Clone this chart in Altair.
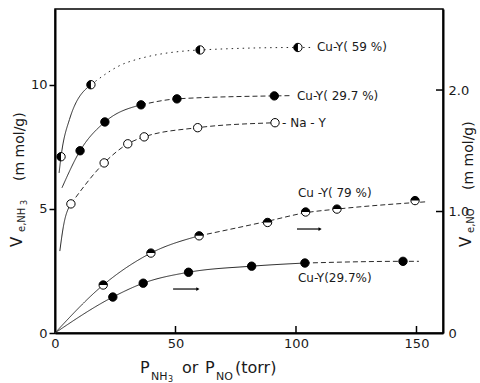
import altair as alt
import pandas as pd

# ---------------- data ----------------
# NH3 uptake (left axis, mmol/g)
p59_x = [2.5, 14.9, 60.2, 100.8]
p59_y = [7.1, 10.0, 11.4, 11.5]
p297n_x = [10.4, 20.7, 35.7, 50.6, 91.0]
p297n_y = [7.34, 8.5, 9.19, 9.43, 9.55]
pna_x = [6.6, 20.4, 30.2, 37.0, 59.2, 91.3]
pna_y = [5.2, 6.85, 7.62, 7.9, 8.27, 8.47]
# NO uptake (right axis, mmol/g)
p79_x = [20.0, 39.8, 59.8, 88.2, 104.0, 117.0, 149.4]
p79_y = [0.395, 0.658, 0.80, 0.91, 0.996, 1.02, 1.09]
p297o_x = [24.0, 36.6, 55.4, 81.6, 103.7, 144.4]
p297o_y = [0.296, 0.41, 0.50, 0.55, 0.576, 0.59]

# drawn guide curves
c59_solid_x = [1.7, 2.5, 6.0, 14.9]
c59_solid_y = [6.45, 7.1, 8.6, 10.0]
c59_dot_x = [14.9, 30.0, 60.2, 100.8, 107.0]
c59_dot_y = [10.0, 10.9, 11.4, 11.5, 11.5]
c297n_solid_x = [2.9, 10.4, 20.7, 35.7]
c297n_solid_y = [5.85, 7.34, 8.5, 9.19]
c297n_dash_x = [35.7, 50.6, 91.0, 98.0]
c297n_dash_y = [9.19, 9.43, 9.55, 9.56]
cna_solid_x = [2.0, 3.5, 6.6]
cna_solid_y = [3.3, 4.3, 5.2]
cna_dash_x = [6.6, 20.4, 30.2, 37.0, 59.2, 91.3, 94.0]
cna_dash_y = [5.2, 6.85, 7.62, 7.9, 8.27, 8.47, 8.48]
c79_solid_x = [0.0, 20.0, 39.8, 59.8]
c79_solid_y = [0.0, 0.395, 0.658, 0.80]
c79_dash_x = [59.8, 88.2, 104.0, 117.0, 154.0]
c79_dash_y = [0.80, 0.92, 0.99, 1.02, 1.08]
c297o_solid_x = [0.0, 24.0, 36.6, 55.4, 81.6, 103.7]
c297o_solid_y = [0.0, 0.296, 0.41, 0.50, 0.55, 0.576]
c297o_dash_x = [103.7, 144.4, 151.0]
c297o_dash_y = [0.576, 0.59, 0.59]

# labels
nh3_lab_text = ["Cu-Y( 59 %)", "Cu-Y( 29.7 %)", "- Na - Y"]
nh3_lab_x = [108.7, 100.4, 94.2]
nh3_lab_y = [11.5, 9.55, 8.47]
no_lab_text = ["Cu -Y( 79 %)", "Cu-Y(29.7%)"]
no_lab_x = [100.8, 100.8]
no_lab_y = [1.152, 0.453]
arrow_x1 = [49.0, 100.4]
arrow_x2 = [59.3, 110.0]
arrow_y = [0.362, 0.856]

x_ticks = [0, 50, 100, 150]
yl_ticks = [0, 5, 10]
yr_ticks = [0, 1, 2]

FONT = "DejaVu Sans"
INK = "#1a1a1a"
HALF_LEFT = "M 0 -1 A 1 1 0 0 0 0 1 Z"
HALF_TOP = "M -1 0 A 1 1 0 0 1 1 0 Z"
MSIZE = 70

xscale = alt.Scale(domain=[0, 161], nice=False, zero=False)
yl_scale = alt.Scale(domain=[0, 13.05], nice=False)
yr_scale = alt.Scale(domain=[0, 2.667], nice=False)

xaxis = alt.Axis(values=x_ticks, tickSize=0, labelPadding=4, title=None, grid=False,
                 domainWidth=2, domainColor="black", labelFontSize=13, labelFont=FONT,
                 labelColor=INK, labelFlush=False)
yl_axis = alt.Axis(values=yl_ticks, tickSize=6, tickWidth=1.5, tickColor="black",
                   labelPadding=2, title=None, grid=False, domainWidth=2,
                   domainColor="black", labelFontSize=13, labelFont=FONT, labelColor=INK)
yr_axis = alt.Axis(orient="right", values=yr_ticks, tickSize=0, labelPadding=5, title=None,
                   grid=False, domainWidth=2, domainColor="black", labelFontSize=13,
                   labelFont=FONT, labelColor=INK,
                   labelExpr="datum.value == 0 ? '0' : format(datum.value, '.1f')")


def X(field="x"):
    return alt.X(f"{field}:Q", scale=xscale, axis=xaxis)


def YL(field="y"):
    return alt.Y(f"{field}:Q", scale=yl_scale, axis=yl_axis)


def YR(field="y"):
    return alt.Y(f"{field}:Q", scale=yr_scale, axis=yr_axis)


def seg(xs, ys, name, style):
    return pd.DataFrame({"x": xs, "y": ys, "seg": name, "style": style})


dash_scale = alt.Scale(domain=["solid", "dash", "dot"], range=[[1, 0], [5, 3], [1.5, 4]])


def lines(df, Y):
    return alt.Chart(df).mark_line(interpolate="monotone", color="#2a2a2a", strokeWidth=1).encode(
        x=X(), y=Y(), detail="seg:N",
        strokeDash=alt.StrokeDash("style:N", scale=dash_scale, legend=None))


def pts(xs, ys):
    return pd.DataFrame({"x": xs, "y": ys})


def circles(df, Y, fill):
    return alt.Chart(df).mark_point(shape="circle", filled=True, fill=fill, stroke="black",
                                    strokeWidth=1, size=MSIZE, opacity=1).encode(x=X(), y=Y())


def halves(df, Y, path):
    return alt.Chart(df).mark_point(shape=path, filled=True, fill="black", strokeWidth=0,
                                    size=MSIZE, opacity=1).encode(x=X(), y=Y())


def txt(s, px, py, size, angle=0, baseline="alphabetic"):
    return alt.Chart(alt.Data(values=[{}])).mark_text(
        text=s, font=FONT, fontSize=size, color=INK, align="left", baseline=baseline,
        angle=angle).encode(x=alt.value(px), y=alt.value(py))


# ---------------- NH3 group (left axis) ----------------
lines_nh3 = pd.concat([
    seg(c59_solid_x, c59_solid_y, "59a", "solid"),
    seg(c59_dot_x, c59_dot_y, "59b", "dot"),
    seg(c297n_solid_x, c297n_solid_y, "297a", "solid"),
    seg(c297n_dash_x, c297n_dash_y, "297b", "dash"),
    seg(cna_solid_x, cna_solid_y, "naa", "solid"),
    seg(cna_dash_x, cna_dash_y, "nab", "dash"),
])
d59 = pts(p59_x, p59_y)
d297n = pts(p297n_x, p297n_y)
dna = pts(pna_x, pna_y)
lab_nh3 = pd.DataFrame({"x": nh3_lab_x, "y": nh3_lab_y, "t": nh3_lab_text})

nh3 = alt.layer(
    lines(lines_nh3, YL),
    circles(d59, YL, "white"),
    halves(d59, YL, HALF_LEFT),
    circles(d297n, YL, "black"),
    circles(dna, YL, "white"),
    alt.Chart(lab_nh3).mark_text(font=FONT, fontSize=12, color=INK, align="left",
                                 baseline="middle").encode(x=X(), y=YL(), text="t:N"),
    alt.Chart(pd.DataFrame({"x": x_ticks[1:]})).mark_rule(color="black", strokeWidth=1.5).encode(
        x=X(), y=alt.value(324), y2=alt.value(317)),
)

# ---------------- NO group (right axis) ----------------
lines_no = pd.concat([
    seg(c79_solid_x, c79_solid_y, "79a", "solid"),
    seg(c79_dash_x, c79_dash_y, "79b", "dash"),
    seg(c297o_solid_x, c297o_solid_y, "297oa", "solid"),
    seg(c297o_dash_x, c297o_dash_y, "297ob", "dash"),
])
d79 = pts(p79_x, p79_y)
d297o = pts(p297o_x, p297o_y)
lab_no = pd.DataFrame({"x": no_lab_x, "y": no_lab_y, "t": no_lab_text})
arrows = pd.DataFrame({"x": arrow_x1, "x2": arrow_x2, "y": arrow_y})

no = alt.layer(
    lines(lines_no, YR),
    circles(d79, YR, "white"),
    halves(d79, YR, HALF_TOP),
    circles(d297o, YR, "black"),
    alt.Chart(lab_no).mark_text(font=FONT, fontSize=12, color=INK, align="left",
                                baseline="middle").encode(x=X(), y=YR(), text="t:N"),
    alt.Chart(arrows).mark_rule(color="black", strokeWidth=1.2).encode(
        x=X(), x2="x2:Q", y=YR()),
    alt.Chart(arrows).mark_point(shape="triangle-right", filled=True, color="black",
                                 size=14, opacity=1).encode(x=X("x2"), y=YR()),
    alt.Chart(pd.DataFrame({"y": yr_ticks[1:]})).mark_rule(color="black", strokeWidth=1.5).encode(
        y=YR(), x=alt.value(388), x2=alt.value(381)),
)

# ---------------- axis titles with subscripts ----------------
titles = alt.layer(
    # left
    txt("V", -38, 238, 15, 270, "middle"),
    txt("e,NH", -33, 223, 10, 270, "middle"),
    txt("3", -30, 196, 8, 270, "middle"),
    txt("(m mol/g)", -35, 172, 14, 270, "middle"),
    # right
    txt("V", 411, 238, 15, 270, "middle"),
    txt("e,NO", 416, 224, 10, 270, "middle"),
    txt("(m mol/g)", 414, 181, 14, 270, "middle"),
    # bottom
    txt("P", 85, 364, 16),
    txt("NH", 96, 371, 11),
    txt("3", 113, 373, 8),
    txt("or", 127, 364, 16),
    txt("P", 150, 364, 16),
    txt("NO", 161, 371, 11),
    txt("(torr)", 180, 364, 16),
)

chart = alt.layer(nh3, no, titles).resolve_scale(y="independent").properties(
    width=388, height=324,
    padding={"left": 55, "top": 9, "right": 37, "bottom": 50},
    autosize=alt.AutoSizeParams(type="none"),
    background="white",
).configure_view(stroke="black", strokeWidth=1.5)

chart.save("out.html", embed_options={"renderer": "svg", "actions": False})
